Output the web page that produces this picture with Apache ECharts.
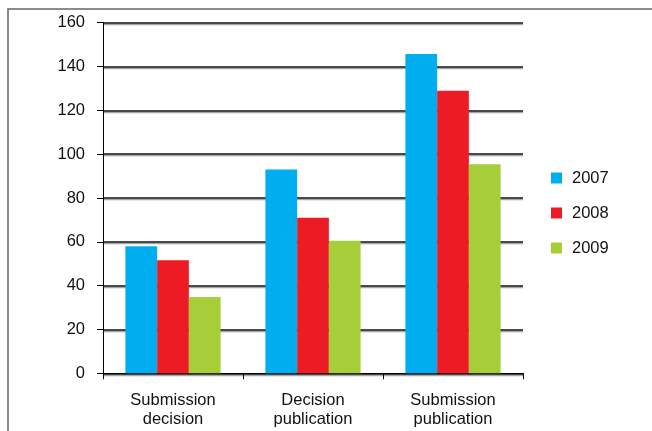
<!DOCTYPE html>
<html>
<head>
<meta charset="utf-8">
<script src="https://cdn.jsdelivr.net/npm/echarts@6/dist/echarts.min.js"></script>
<style>
  html, body { margin: 0; padding: 0; background: #fff; }
  #chart { width: 652px; height: 431px; }
</style>
</head>
<body>
<div id="chart"></div>
<script>
// Categories along the x axis
const categories = ['Submission\ndecision', 'Decision\npublication', 'Submission\npublication'];

// Values per year
const values2007 = [58, 93, 145.7];
const values2008 = [51.6, 71, 128.9];
const values2009 = [34.8, 60.5, 95.4];

const yearNames = ['2007', '2008', '2009'];
const yearColors = ['#00AEEF', '#ED1C24', '#A6CE39'];

const FONT = '"Liberation Sans", Arial, sans-serif';

const chart = echarts.init(document.getElementById('chart'), null, { renderer: 'canvas' });

const seriesData = [values2007, values2008, values2009];

chart.setOption({
  animation: false,
  backgroundColor: '#ffffff',
  textStyle: { fontFamily: FONT },
  graphic: [{
    type: 'rect',
    shape: { x: 8, y: 9, width: 700, height: 500 },
    style: { fill: 'none', stroke: '#666', lineWidth: 1.5 },
    silent: true
  }],
  grid: { left: 103, right: 129, top: 22.7, bottom: 57.7 },
  legend: {
    orient: 'vertical',
    left: 546,
    top: 163,
    itemWidth: 11,
    itemHeight: 11,
    itemGap: 15,
    icon: 'rect',
    textStyle: { fontSize: 16.5, lineHeight: 20, color: '#111', fontFamily: FONT, padding: [0, 0, 0, 5] },
    data: yearNames
  },
  xAxis: {
    type: 'category',
    data: categories,
    axisLine: { lineStyle: { color: '#000', width: 1 } },
    axisTick: { show: true, length: 6, lineStyle: { color: '#000' } },
    axisLabel: { color: '#111', fontSize: 16.5, lineHeight: 19, margin: 18, fontFamily: FONT }
  },
  yAxis: {
    type: 'value',
    min: 0,
    max: 160,
    interval: 20,
    axisLine: { show: true, lineStyle: { color: '#000', width: 1 } },
    axisTick: { show: true, length: 6, lineStyle: { color: '#000' } },
    axisLabel: { color: '#111', fontSize: 16.5, margin: 18, fontFamily: FONT },
    splitLine: {
      show: true,
      lineStyle: { color: '#111', width: 1.5, shadowColor: 'rgba(0,0,0,0.35)', shadowOffsetY: 1.5, shadowBlur: 0 }
    }
  },
  series: yearNames.map((name, i) => ({
    name: name,
    type: 'bar',
    data: seriesData[i],
    barGap: '0%',
    barCategoryGap: '32%',
    itemStyle: { color: yearColors[i] }
  }))
});
</script>
</body>
</html>
